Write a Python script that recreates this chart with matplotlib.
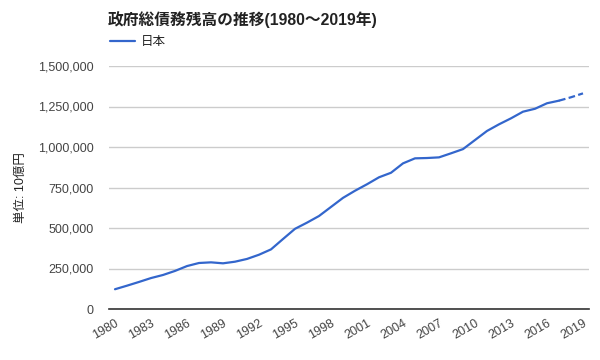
import matplotlib.pyplot as plt

plt.rcParams['font.family'] = ['Liberation Sans', 'Noto Sans CJK JP', 'DejaVu Sans']

# 政府総債務残高 (単位: 10億円), 2018-2019 are estimates (dashed)
years = list(range(1980, 2020))
debt = [122000, 144000, 167000, 191000, 210000, 235000, 265000, 284000, 288000, 282000,
        292000, 309000, 335000, 368000, 432000, 495000, 533000, 574000, 630000, 686000,
        730000, 770000, 813000, 841000, 899000, 930000, 932000, 936000, 961000, 987000,
        1043000, 1099000, 1140000, 1177000, 1218000, 1236000, 1270000, 1286000, 1307000, 1331000]
last_actual = 2017
yticks = [0, 250000, 500000, 750000, 1000000, 1250000, 1500000]
xticks = list(range(1980, 2020, 3))

fig = plt.figure(figsize=(6, 3.6), dpi=100)
ax = fig.add_axes([109/600, 51/360, 480/600, 243/360])

line_color = '#3366cc'
k = years.index(last_actual)
ax.plot(years[:k+1], debt[:k+1], color=line_color, lw=1.6, label='日本', solid_capstyle='round')
ax.plot(years[k:], debt[k:], color=line_color, lw=1.6, ls=(0, (3, 1.5)))

ax.set_xlim(1979.5, 2019.5)
ax.set_ylim(0, 1500000)
ax.set_yticks(yticks)
ax.set_yticklabels([f'{v:,}' for v in yticks])
ax.set_xticks(xticks)
ax.set_xticklabels([str(y) for y in xticks], rotation=30, ha='right', rotation_mode='anchor')
ax.tick_params(axis='both', length=0, labelsize=9, labelcolor='#444444')
ax.tick_params(axis='y', pad=11)
ax.tick_params(axis='x', pad=6)

ax.grid(axis='y', color='#cccccc', lw=1)
ax.set_axisbelow(True)
for s in ['top', 'right', 'left']:
    ax.spines[s].set_visible(False)
ax.spines['bottom'].set_color('#333333')
ax.spines['bottom'].set_linewidth(1.2)

ax.set_ylabel('単位: 10億円', fontsize=9, color='#222222', labelpad=8)

fig.text(108/600, 1 - 20/360, '政府総債務残高の推移(1980〜2019年)', fontsize=11.3,
         fontweight='bold', color='#222222', va='center', ha='left')
ax.legend(loc='center left', bbox_to_anchor=(105/600, 1 - 42/360), bbox_transform=fig.transFigure,
          frameon=False, fontsize=9, handlelength=2.0, handletextpad=0.45, borderaxespad=0,
          labelcolor='#222222')

fig.savefig('out.png', dpi=100)
